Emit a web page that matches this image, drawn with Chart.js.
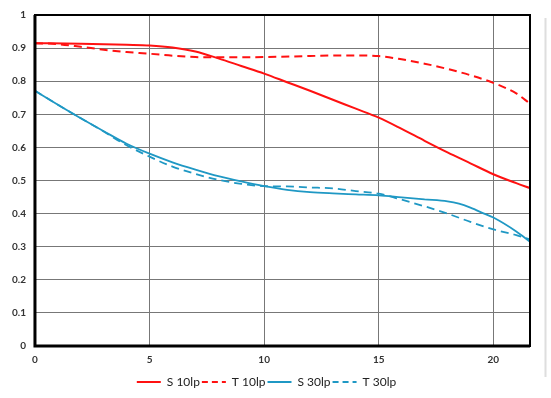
<!DOCTYPE html>
<html>
<head>
<meta charset="utf-8">
<script src="https://cdn.jsdelivr.net/npm/chart.js@4.4.0/dist/chart.umd.min.js"></script>
<style>
  html, body { margin: 0; padding: 0; background: #fff; }
  #mtf { display: block; }
</style>
</head>
<body>
<canvas id="mtf" width="551" height="398"></canvas>
<script>
/* MTF chart */

var seriesNames = ["S 10lp", "T 10lp", "S 30lp", "T 30lp"];

var s10x = [0, 2, 4, 5, 6, 7, 8, 9, 10, 11, 12, 13, 14, 15, 16, 17, 18, 19, 20, 21, 21.6];
var s10y = [0.915, 0.913, 0.91, 0.908, 0.902, 0.89, 0.869, 0.846, 0.823, 0.797, 0.771, 0.744, 0.717, 0.69, 0.656, 0.62, 0.585, 0.552, 0.519, 0.492, 0.477];

var t10x = [0, 1, 2, 3, 4, 5, 6, 7, 8, 10, 12, 13, 14, 15, 16, 17, 18, 19, 20, 21, 21.6];
var t10y = [0.915, 0.912, 0.904, 0.895, 0.888, 0.883, 0.877, 0.873, 0.872, 0.873, 0.876, 0.878, 0.878, 0.876, 0.866, 0.853, 0.837, 0.818, 0.795, 0.763, 0.732];

var s30x = [0, 1, 2, 3, 4, 5, 6, 7, 8, 9, 10, 11, 12, 13, 14, 15, 16, 17, 18, 18.5, 19, 19.6, 20, 21, 21.6];
var s30y = [0.771, 0.729, 0.688, 0.649, 0.611, 0.581, 0.555, 0.533, 0.513, 0.497, 0.483, 0.472, 0.465, 0.461, 0.458, 0.455, 0.449, 0.443, 0.437, 0.43, 0.418, 0.4, 0.388, 0.346, 0.315];

var t30x = [0, 1, 2, 3, 3.8, 5, 6, 7, 8, 9, 10, 11, 12, 13, 14, 15, 16, 17, 18, 19, 20, 21, 21.6];
var t30y = [0.771, 0.729, 0.688, 0.648, 0.614, 0.572, 0.542, 0.52, 0.502, 0.49, 0.483, 0.482, 0.479, 0.476, 0.468, 0.46, 0.442, 0.422, 0.4, 0.375, 0.352, 0.335, 0.322];

var xTicks = [0, 5, 10, 15, 20];

var red = "#ff1111";
var blue = "#1f98c4";

function pairs(xs, ys) {
    return xs.map(function (x, i) { return { x: x, y: ys[i] }; });
}

// black frame round the plot + faint page edge
var framePlugin = {
    id: "frame",
    afterDraw: function (chart) {
        var a = chart.chartArea, c = chart.ctx;
        c.save();
        c.strokeStyle = "#000";
        c.lineWidth = 2;
        c.strokeRect(a.left, a.top, a.right - a.left, a.bottom - a.top);
        c.lineWidth = 3;
        c.beginPath();
        c.moveTo(a.left, a.top);
        c.lineTo(a.left, a.bottom);
        c.lineTo(a.right, a.bottom);
        c.stroke();
        c.strokeStyle = "#dedede";
        c.lineWidth = 2;
        c.beginPath();
        c.moveTo(545.5, 18);
        c.lineTo(545.5, 377);
        c.stroke();
        c.restore();
    }
};

var tickFont = { family: "Lato, sans-serif", size: 10, weight: "bold" };

var chart = new Chart(document.getElementById("mtf"), {
    type: "line",
    data: {
        datasets: [{
            label: seriesNames[0],
            data: pairs(s10x, s10y),
            borderColor: red,
            backgroundColor: red,
            borderWidth: 2
        }, {
            label: seriesNames[1],
            data: pairs(t10x, t10y),
            borderColor: red,
            backgroundColor: red,
            borderWidth: 2,
            borderDash: [8, 5]
        }, {
            label: seriesNames[2],
            data: pairs(s30x, s30y),
            borderColor: blue,
            backgroundColor: blue,
            borderWidth: 1.8
        }, {
            label: seriesNames[3],
            data: pairs(t30x, t30y),
            borderColor: blue,
            backgroundColor: blue,
            borderWidth: 1.8,
            borderDash: [8, 5]
        }]
    },
    options: {
        responsive: false,
        animation: false,
        layout: { padding: { left: 3, right: 21, top: 10, bottom: 0 } },
        elements: {
            point: { radius: 0 },
            line: { cubicInterpolationMode: "monotone", fill: false }
        },
        scales: {
            x: {
                type: "linear",
                min: 0,
                max: 21.6,
                afterBuildTicks: function (scale) {
                    scale.ticks = xTicks.map(function (v) { return { value: v }; });
                },
                grid: { color: "#777", lineWidth: 1, drawTicks: false },
                border: { display: false },
                ticks: { font: tickFont, color: "#333", padding: 8, maxRotation: 0 }
            },
            y: {
                min: 0,
                max: 1,
                ticks: {
                    stepSize: 0.1,
                    font: tickFont,
                    color: "#333",
                    padding: 9,
                    callback: function (v) { return String(+v.toFixed(1)); }
                },
                grid: { color: "#777", lineWidth: 1, drawTicks: false },
                border: { display: false }
            }
        },
        plugins: {
            legend: {
                position: "bottom",
                labels: {
                    usePointStyle: true,
                    pointStyle: "line",
                    pointStyleWidth: 24,
                    boxHeight: 12,
                    padding: 2,
                    color: "#222",
                    font: { family: "Lato, sans-serif", size: 12 },
                    generateLabels: function (ch) {
                        var items = Chart.defaults.plugins.legend.labels.generateLabels(ch);
                        items.forEach(function (it) {
                            var ds = ch.data.datasets[it.datasetIndex];
                            it.lineDash = ds.borderDash ? [6, 4] : [];
                            it.lineWidth = 2;
                            it.strokeStyle = ds.borderColor;
                        });
                        return items;
                    }
                }
            },
            tooltip: { enabled: false }
        }
    },
    plugins: [framePlugin]
});
</script>
</body>
</html>
